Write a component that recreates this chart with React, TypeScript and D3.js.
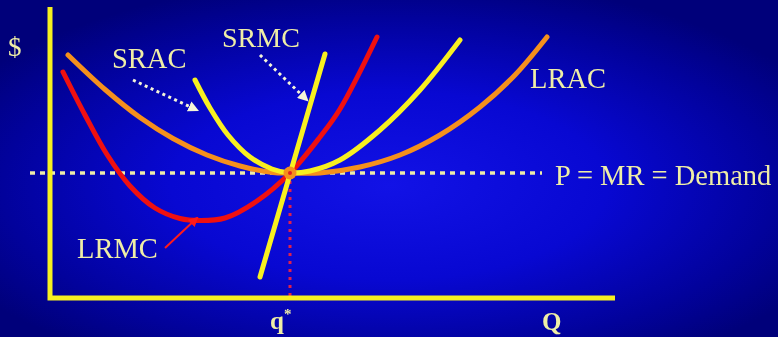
import React from "react";
import * as d3 from "d3";

// chart units: Q along x, $ along y
const lrac: [number, number][] = [
  [3.6, 48.6], [11, 41.7], [18, 36.1], [24.6, 31.9], [31.4, 28.6], [38, 26.4],
  [44.6, 25.1], [48, 25], [54, 25], [62, 26.2], [70, 28.6], [78, 32.6],
  [86, 38.2], [93, 44.6], [99.4, 52.2],
];
const srac: [number, number][] = [
  [29, 43.6], [32, 38], [35.6, 32.6], [40, 28.2], [44.4, 25.8], [48, 25],
  [52, 25.4], [58, 27.6], [66, 33.6], [74, 41.6], [82, 51.6],
];
const lrmc: [number, number][] = [
  [2.6, 45.2], [7, 36.6], [11.4, 28.7], [16, 22.4], [21, 18], [26, 15.9],
  [30, 15.5], [35, 16], [41.4, 19.4], [48, 25], [54, 32.2], [58, 37.8], [65.4, 52.2],
];
const srmc: [number, number][] = [[42, 4.2], [55, 48.8]];
const price = 25;
const qStar = 48;
const priceLineQ = [-4, 98.4];

const arrows = [
  { from: [16.6, 43.6], to: [29.4, 37.6], color: "#f4f4d8", dashed: true },
  { from: [42, 48.6], to: [51.4, 39.6], color: "#f4f4d8", dashed: true },
  { from: [23, 10], to: [29.4, 16], color: "#ff1a1a", dashed: false },
];

const labels = [
  { text: "$", x: 8, y: 56, size: 27, bold: false },
  { text: "SRAC", x: 112, y: 68, size: 28.5, bold: false },
  { text: "SRMC", x: 222, y: 47, size: 28, bold: false },
  { text: "LRAC", x: 530, y: 88, size: 28.5, bold: false },
  { text: "P = MR = Demand", x: 555, y: 185, size: 28.5, bold: false },
  { text: "LRMC", x: 77, y: 258, size: 28.5, bold: false },
  { text: "Q", x: 542, y: 330, size: 25, bold: true },
];

const W = 778;
const H = 337;

export default function App() {
  const x = d3.scaleLinear().domain([0, 113]).range([50, 615]);
  const y = d3.scaleLinear().domain([0, 58]).range([298, 8]);

  const curve = d3
    .line<[number, number]>()
    .x((d) => x(d[0]))
    .y((d) => y(d[1]))
    .curve(d3.curveCatmullRom.alpha(0.5));
  const straight = d3
    .line<[number, number]>()
    .x((d) => x(d[0]))
    .y((d) => y(d[1]));

  const textColor = "#efeea6";

  return (
    <svg
      width={W}
      height={H}
      style={{ position: "fixed", left: 0, top: 0 }}
      fontFamily="'Liberation Serif', 'Times New Roman', serif"
    >
      <defs>
        <radialGradient id="bg" cx="0.5" cy="0.55" r="0.62">
          <stop offset="0" stopColor="#1212e6" />
          <stop offset="0.45" stopColor="#0808d2" />
          <stop offset="0.8" stopColor="#02029c" />
          <stop offset="1" stopColor="#00007a" />
        </radialGradient>
        <marker id="ahW" viewBox="0 0 10 10" refX="8" refY="5" markerWidth="3.6" markerHeight="3.6" orient="auto">
          <path d="M0,0 L10,5 L0,10 z" fill="#f4f4d8" />
        </marker>
        <marker id="ahR" viewBox="0 0 10 10" refX="8" refY="5" markerWidth="5" markerHeight="5" orient="auto">
          <path d="M0,0 L10,5 L0,10 z" fill="#ff1a1a" />
        </marker>
      </defs>
      <rect width={W} height={H} fill="url(#bg)" />

      {/* price line */}
      <line
        x1={x(priceLineQ[0])}
        x2={x(priceLineQ[1])}
        y1={y(price)}
        y2={y(price)}
        stroke="#eeeca8"
        strokeWidth={3.5}
        strokeDasharray="5 5"
      />
      {/* q* drop line */}
      <line
        x1={x(qStar)}
        x2={x(qStar)}
        y1={y(price)}
        y2={y(0)}
        stroke="#e0204a"
        strokeWidth={3}
        strokeDasharray="3 5"
      />

      {/* axes */}
      <path
        d={`M${x(0)},${y(0) - 291}V${y(0)}H${x(113)}`}
        fill="none"
        stroke="#f6f020"
        strokeWidth={5}
      />

      <path d={curve(lrac) ?? ""} fill="none" stroke="#f5901c" strokeWidth={5} strokeLinecap="round" />
      <path d={curve(lrmc) ?? ""} fill="none" stroke="#f01010" strokeWidth={5} strokeLinecap="round" />
      <path d={curve(srac) ?? ""} fill="none" stroke="#f8f020" strokeWidth={5} strokeLinecap="round" />
      <path d={straight(srmc) ?? ""} fill="none" stroke="#f8f020" strokeWidth={5} strokeLinecap="round" />

      <circle cx={x(qStar)} cy={y(price)} r={6.5} fill="#f5901c" />
      <circle cx={x(qStar)} cy={y(price)} r={2} fill="#e02020" />

      {arrows.map((a, i) => (
        <line
          key={i}
          x1={x(a.from[0])}
          y1={y(a.from[1])}
          x2={x(a.to[0])}
          y2={y(a.to[1])}
          stroke={a.color}
          strokeWidth={a.dashed ? 3 : 2}
          strokeDasharray={a.dashed ? "3 3.5" : undefined}
          markerEnd={a.dashed ? "url(#ahW)" : "url(#ahR)"}
        />
      ))}

      {labels.map((l) => (
        <text
          key={l.text}
          x={l.x}
          y={l.y}
          fontSize={l.size}
          fontWeight={l.bold ? "bold" : "normal"}
          fill={textColor}
        >
          {l.text}
        </text>
      ))}
      <text x={270} y={329} fontSize={25} fontWeight="bold" fill={textColor}>
        q<tspan fontSize={15} dy={-10}>*</tspan>
      </text>
    </svg>
  );
}
